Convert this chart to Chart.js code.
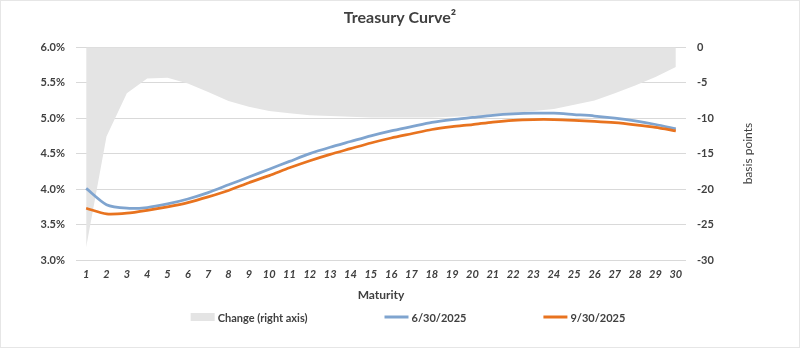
<!DOCTYPE html>
<html>
<head>
<meta charset="utf-8">
<title>Treasury Curve</title>
<script src="https://cdn.jsdelivr.net/npm/chart.js@4.4.1/dist/chart.umd.min.js"></script>
<style>
  html, body { margin: 0; padding: 0; background: #fff; }
  canvas { display: block; outline: 1px solid #e6e6e6; outline-offset: -1px; }
</style>
</head>
<body>
<canvas id="curve" width="800" height="348"></canvas>
<script>
// maturity in years
const maturities = ['1', '2', '3', '4', '5', '6', '7', '8', '9', '10',
  '11', '12', '13', '14', '15', '16', '17', '18', '19', '20',
  '21', '22', '23', '24', '25', '26', '27', '28', '29', '30']

// yields, %
const yieldsJun = [4.01, 3.78, 3.73, 3.74, 3.79, 3.86, 3.95, 4.06, 4.17, 4.28,
  4.39, 4.50, 4.59, 4.67, 4.75, 4.82, 4.88, 4.94, 4.98, 5.01,
  5.04, 5.06, 5.07, 5.07, 5.05, 5.03, 5.00, 4.96, 4.91, 4.85]
const yieldsSep = [3.73, 3.65, 3.66, 3.70, 3.75, 3.81, 3.89, 3.98, 4.09, 4.19,
  4.30, 4.40, 4.49, 4.57, 4.65, 4.72, 4.78, 4.84, 4.88, 4.91,
  4.945, 4.97, 4.98, 4.98, 4.97, 4.955, 4.935, 4.905, 4.87, 4.82]

// change between the two dates, basis points
const changeBp = [-28.2, -12.6, -6.5, -4.4, -4.3, -5.1, -6.3, -7.6, -8.4, -9.0,
  -9.3, -9.6, -9.7, -9.8, -9.9, -9.9, -9.9, -9.9, -9.8, -9.7,
  -9.5, -9.3, -9.0, -8.7, -8.1, -7.5, -6.5, -5.4, -4.2, -2.8]

const leftTicks = { min: 3, max: 6, step: 0.5 }
const rightTicks = { min: -30, max: 0, step: 5 }

const FONT = 'Lato, "Open Sans", sans-serif'
const textColor = '#404040'
const gridColor = '#d9d9d9'

// right axis title, reads bottom to top
const rightTitle = {
  id: 'rightTitle',
  afterDraw(chart, args, opts) {
    const s = chart.scales.y1
    const c = chart.ctx
    c.save()
    c.translate(s.left + opts.offset, (s.top + s.bottom) / 2)
    c.rotate(-Math.PI / 2)
    c.font = `12px ${FONT}`
    c.fillStyle = textColor
    c.textAlign = 'center'
    c.textBaseline = 'middle'
    c.fillText(opts.text, 0, 0)
    c.restore()
  }
}

// legend with wide gaps between entries
const spacedLegend = {
  id: 'spacedLegend',
  afterDraw(chart, args, opts) {
    const c = chart.ctx
    c.save()
    c.font = `bold 11px ${FONT}`
    c.textBaseline = 'middle'
    const items = chart.data.datasets.map(ds => ({
      text: ds.label,
      color: ds.fill ? ds.backgroundColor : ds.borderColor,
      area: !!ds.fill,
      w: opts.symbol + opts.textGap + c.measureText(ds.label).width
    }))
    const total = items.reduce((a, it) => a + it.w, 0) + opts.gap * (items.length - 1)
    let x = chart.width / 2 - total / 2 + opts.shift
    const y = chart.height - opts.bottom
    items.forEach(it => {
      if (it.area) {
        c.fillStyle = it.color
        c.fillRect(x, y - 4, opts.symbol, 8)
      } else {
        c.strokeStyle = it.color
        c.lineWidth = 3
        c.beginPath()
        c.moveTo(x, y)
        c.lineTo(x + opts.symbol, y)
        c.stroke()
      }
      c.fillStyle = textColor
      c.fillText(it.text, x + opts.symbol + opts.textGap, y + 1)
      x += it.w + opts.gap
    })
    c.restore()
  }
}

new Chart(document.getElementById('curve'), {
  type: 'line',
  data: {
    labels: maturities,
    datasets: [{
      label: 'Change (right axis)',
      data: changeBp,
      yAxisID: 'y1',
      fill: 'origin',
      backgroundColor: '#e4e4e4',
      borderWidth: 0,
      pointRadius: 0,
      tension: 0,
      order: 3
    }, {
      label: '6/30/2025',
      data: yieldsJun,
      yAxisID: 'y',
      borderColor: '#7fa4cf',
      borderWidth: 2.75,
      pointRadius: 0,
      tension: 0.25,
      fill: false,
      order: 2
    }, {
      label: '9/30/2025',
      data: yieldsSep,
      yAxisID: 'y',
      borderColor: '#e8731f',
      borderWidth: 2.75,
      pointRadius: 0,
      tension: 0.25,
      fill: false,
      order: 1
    }]
  },
  options: {
    responsive: false,
    animation: false,
    layout: { padding: { top: 0, right: 0, bottom: 38, left: 0 } },
    plugins: {
      legend: { display: false },
      tooltip: { enabled: false },
      title: {
        display: true,
        text: 'Treasury Curve²',
        color: textColor,
        font: { family: FONT, size: 16, weight: 'bold' },
        padding: { top: 8, bottom: 20 }
      },
      rightTitle: { text: 'basis points', offset: 62 },
      spacedLegend: { symbol: 24, textGap: 3, gap: 77, bottom: 31, shift: 8 }
    },
    scales: {
      x: {
        offset: true,
        grid: { display: false, drawTicks: false },
        border: { display: false },
        ticks: {
          color: textColor,
          padding: 8,
          maxRotation: 0,
          autoSkip: false,
          font: { family: FONT, size: 11, style: 'italic', weight: 'bold' }
        },
        title: {
          display: true,
          text: 'Maturity',
          color: textColor,
          font: { family: FONT, size: 12, weight: 'bold' },
          padding: { top: 0, bottom: 8 }
        },
        afterFit(scale) { scale.height = 50 }
      },
      y: {
        position: 'left',
        min: leftTicks.min,
        max: leftTicks.max,
        grid: { color: gridColor, drawTicks: false },
        border: { display: false },
        ticks: {
          stepSize: leftTicks.step,
          padding: 11,
          color: textColor,
          font: { family: FONT, size: 11, weight: 'bold' },
          callback: v => v.toFixed(1) + '%'
        },
        afterFit(scale) { scale.width = 76 }
      },
      y1: {
        position: 'right',
        min: rightTicks.min,
        max: rightTicks.max,
        grid: { display: false, drawTicks: false },
        border: { display: false },
        ticks: {
          stepSize: rightTicks.step,
          padding: 11,
          color: textColor,
          font: { family: FONT, size: 11, weight: 'bold' }
        },
        afterFit(scale) { scale.width = 114 }
      }
    }
  },
  plugins: [rightTitle, spacedLegend]
})
</script>
</body>
</html>
